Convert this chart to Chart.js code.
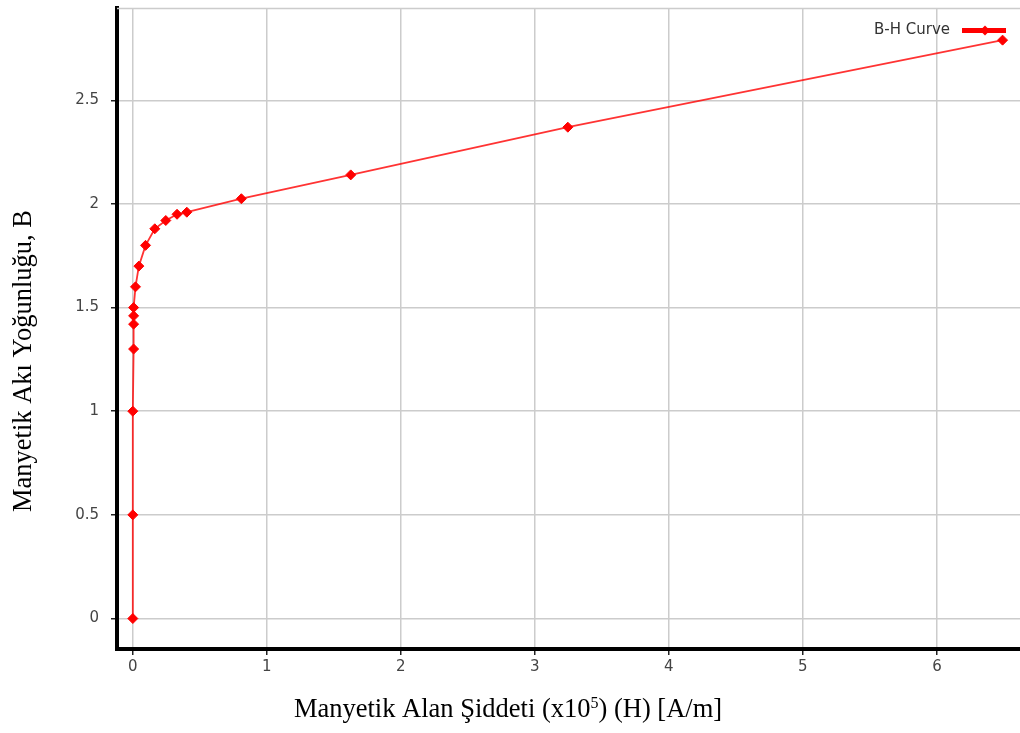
<!DOCTYPE html>
<html>
<head>
<meta charset="utf-8">
<script src="https://cdn.jsdelivr.net/npm/chart.js@4.4.1/dist/chart.umd.min.js"></script>
<style>
  html, body { margin: 0; padding: 0; background: #ffffff; }
  #wrap { width: 1020px; height: 733px; }
</style>
</head>
<body>
<div id="wrap"><canvas id="c" width="1020" height="733"></canvas></div>
<script>
// ---- data ----
const seriesLabel = "B-H Curve";
const hValues = [0, 0, 0, 0.006, 0.006, 0.006, 0.006, 0.02, 0.045, 0.095, 0.164, 0.246, 0.33, 0.403, 0.81, 1.626, 3.246, 6.49];
const bValues = [0, 0.5, 1.0, 1.3, 1.42, 1.46, 1.5, 1.6, 1.7, 1.8, 1.88, 1.92, 1.95, 1.96, 2.025, 2.14, 2.37, 2.79];
const xTicks = [0, 1, 2, 3, 4, 5, 6];
const xTickLabels = ["0", "1", "2", "3", "4", "5", "6"];
const yTicks = [0, 0.5, 1, 1.5, 2, 2.5];
const yTickLabels = ["0", "0.5", "1", "1.5", "2", "2.5"];
const xTitleMain = "Manyetik Alan Şiddeti (x10";
const xTitleSup = "5";
const xTitleTail = ") (H) [A/m]";
const yTitle = "Manyetik Akı Yoğunluğu, B";

const points = hValues.map((h, i) => ({ x: h, y: bValues[i] }));

const tickFont = { family: "'DejaVu Sans', sans-serif", size: 15 };
const titleFontFamily = "'Liberation Serif', 'Times New Roman', serif";

const decorPlugin = {
  id: 'decor',
  beforeDatasetsDraw(chart) {
    const { ctx, chartArea } = chart;
    ctx.save();
    ctx.strokeStyle = '#cccccc';
    ctx.lineWidth = 1.5;
    ctx.beginPath();
    ctx.moveTo(chartArea.left, chartArea.top + 0.5);
    ctx.lineTo(chartArea.right, chartArea.top + 0.5);
    ctx.stroke();
    ctx.restore();
  },
  afterDraw(chart) {
    const { ctx, chartArea, width } = chart;
    ctx.save();
    // legend
    const ly = chartArea.top + 22;
    ctx.font = "15px 'DejaVu Sans', sans-serif";
    ctx.fillStyle = '#333333';
    ctx.textAlign = 'right';
    ctx.textBaseline = 'middle';
    ctx.fillText(chart.data.datasets[0].label, chartArea.right - 70, ly);
    ctx.strokeStyle = '#ff0000';
    ctx.lineWidth = 5;
    ctx.beginPath();
    ctx.moveTo(chartArea.right - 58, ly + 0.5);
    ctx.lineTo(chartArea.right - 14, ly + 0.5);
    ctx.stroke();
    ctx.fillStyle = '#ff0000';
    const dx = chartArea.right - 35, r = 5;
    ctx.beginPath();
    ctx.moveTo(dx - r, ly + 0.5); ctx.lineTo(dx, ly + 0.5 - r);
    ctx.lineTo(dx + r, ly + 0.5); ctx.lineTo(dx, ly + 0.5 + r);
    ctx.closePath(); ctx.fill();

    // y axis title
    ctx.fillStyle = '#000000';
    ctx.font = "26.5px " + titleFontFamily;
    ctx.textAlign = 'center';
    ctx.textBaseline = 'middle';
    ctx.save();
    ctx.translate(24, 361);
    ctx.rotate(-Math.PI / 2);
    ctx.fillText(yTitle, 0, 0);
    ctx.restore();

    // x axis title with superscript
    const mainFont = "26.5px " + titleFontFamily;
    const supFont = "16px " + titleFontFamily;
    ctx.font = mainFont;
    const w1 = ctx.measureText(xTitleMain).width;
    const w3 = ctx.measureText(xTitleTail).width;
    ctx.font = supFont;
    const w2 = ctx.measureText(xTitleSup).width;
    const total = w1 + w2 + w3;
    let x = width / 2 - total / 2 - 2;
    const by = 717;
    ctx.textAlign = 'left';
    ctx.textBaseline = 'alphabetic';
    ctx.font = mainFont;
    ctx.fillText(xTitleMain, x, by);
    x += w1;
    ctx.font = supFont;
    ctx.fillText(xTitleSup, x, by - 9);
    x += w2;
    ctx.font = mainFont;
    ctx.fillText(xTitleTail, x, by);
    ctx.restore();
  }
};

new Chart(document.getElementById('c'), {
  type: 'scatter',
  data: {
    datasets: [{
      label: seriesLabel,
      data: points,
      showLine: true,
      borderColor: 'rgba(255,0,0,0.8)',
      borderWidth: 1.8,
      tension: 0,
      pointStyle: 'rectRot',
      pointRadius: 5,
      pointHoverRadius: 5,
      pointBackgroundColor: '#ff0000',
      pointBorderColor: '#ff0000',
      pointBorderWidth: 1
    }]
  },
  options: {
    responsive: false,
    animation: false,
    layout: { autoPadding: false, padding: { top: 8, right: 0, left: 0, bottom: 0 } },
    plugins: {
      legend: { display: false },
      tooltip: { enabled: false }
    },
    scales: {
      x: {
        type: 'linear',
        min: -0.118,
        max: 6.62,
        afterFit(scale) { scale.height = 84; scale.paddingLeft = 0; scale.paddingRight = 0; },
        afterBuildTicks(scale) { scale.ticks = xTicks.map(v => ({ value: v })); },
        ticks: {
          font: tickFont,
          color: '#444444',
          padding: 3,
          maxRotation: 0,
          callback: (v, i) => xTickLabels[i]
        },
        grid: { color: '#cccccc', lineWidth: 1.5, tickColor: '#222222', tickLength: 6, tickWidth: 1.5 },
        border: { display: true, color: '#000000', width: 4 }
      },
      y: {
        type: 'linear',
        min: -0.147,
        max: 2.945,
        afterFit(scale) { scale.width = 117; scale.paddingTop = 0; scale.paddingBottom = 0; },
        afterBuildTicks(scale) { scale.ticks = yTicks.map(v => ({ value: v })); },
        ticks: {
          font: tickFont,
          color: '#444444',
          padding: 12,
          callback: (v, i) => yTickLabels[i]
        },
        grid: { color: '#cccccc', lineWidth: 1.5, tickColor: '#222222', tickLength: 6, tickWidth: 1.5 },
        border: { display: true, color: '#000000', width: 4 }
      }
    }
  },
  plugins: [decorPlugin]
});
</script>
</body>
</html>
